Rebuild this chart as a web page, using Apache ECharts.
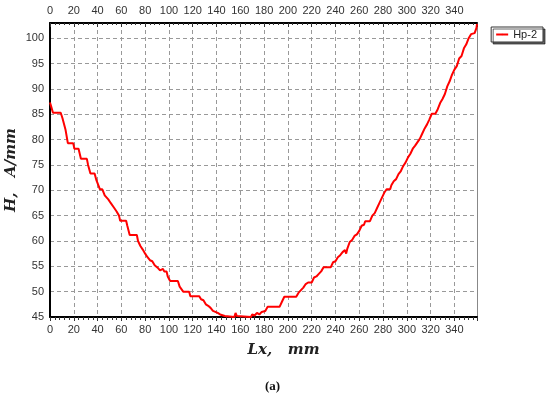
<!DOCTYPE html>
<html><head><meta charset="utf-8">
<script src="https://cdn.jsdelivr.net/npm/echarts@6/dist/echarts.min.js"></script>
<style>html,body{margin:0;padding:0;background:#fff}#c{width:550px;height:398px}</style>
</head><body><div id="c"></div>
<script>
var seriesName = 'Hp-2';
var lx = [0,1,2.5,9,10.5,12,13,15,19.5,20.5,24,26,31,32,34,37.5,39,42,44,46,49,51,54,56,58,59,64,65,67,73,74,76,78,80,82,84,86,88,91,92.5,95,96,98,99,101,107.5,109,112,117,118,125.5,127,129,131,133,135,137,139,141,143,147,148,155,156,157,158,169,170,172,174,176,178,181,183,193,195,197,207,209,211,213,215,217,220,222,224,226,228,230,236,238,240,242,244,246,248,249,250,252,254,256,258,260,262,264,265,269,271,273,275,277,279,281,283,286,287,289,291,293,295,297,299,301,303,305,307,309,311,313,315,317,319,321,324,326,328,330,332,334,336,338,340,342,344,346,348,350,352,354,357,358.5,359];
var h = [87.3,86.5,85.3,85.3,84.2,84,82,79.3,79.3,78.2,78.2,76.2,76.2,75,73.3,73.3,72,70.2,70.2,69,68.2,67.5,66.5,65.8,65,64,64,63,61.2,61.2,60,59,58.3,57.5,56.8,56.2,56,55.2,54.6,54.2,54.5,54,54,53,52.1,52.1,51,50,50,49.1,49.1,48.5,48.3,47.5,47.2,46.8,46.2,46,45.8,45.5,45.2,45,45,45.8,45.2,45,45,45.5,45.3,45.8,45.5,46,46.2,47,47,48,49,49,49.8,50.3,50.8,51.5,51.8,51.8,52.8,53,53.5,54,54.8,54.8,55.8,56,56.8,57.2,57.8,58.2,57.5,58.5,59.8,60.2,61,61.3,62,63,63.2,63.9,63.9,65,65.5,66.5,67.5,68.5,69.5,70.2,70.2,71,71.8,72.2,73.2,73.8,74.8,75.5,76.5,77.2,78.2,78.8,79.5,80.2,81.2,82.2,83,84,85.1,85.1,86,87.2,88,89,90.5,91.5,92.8,93.8,94.5,96,96.5,98,98.8,100,100.8,101,102,102.8];
var xTitle = 'Lx,   mm';
var yTitle = 'H,   A/mm';
var caption = '(a)';

var data = lx.map(function(v,i){return [v,h[i]];});
var chart = echarts.init(document.getElementById('c'), null, {renderer:'canvas'});
var lblColor = '#333';
var titleStyle = {fontFamily:'DejaVu Serif', fontStyle:'italic', fontWeight:'bold', fontSize:15, color:'#222'};
var xCommon = {
  type:'value', min:0, max:359, interval:20,
  axisLine:{show:true, onZero:false, lineStyle:{color:'#000', width:2}},
  axisLabel:{color:lblColor, fontFamily:'Arial', fontSize:11, showMaxLabel:false, margin:7},
  minorTick:{show:true, splitNumber:5, length:3, lineStyle:{color:'#333'}},
  axisTick:{show:true, length:4, lineStyle:{color:'#333'}}
};
chart.setOption({
  animation:false,
  grid:{left:50, right:73, top:23, bottom:81, containLabel:false, outerBoundsMode:'none'},
  legend:{
    data:[seriesName], right:7, top:27, orient:'vertical',
    backgroundColor:'#fff', borderColor:'#333', borderWidth:1,
    padding:[2,6,2,4], itemWidth:12, itemHeight:2, itemGap:2,
    shadowColor:'rgba(0,0,0,0.6)', shadowOffsetX:2, shadowOffsetY:2, shadowBlur:0,
    textStyle:{fontFamily:'Arial', fontSize:11, color:'#222'}
  },
  xAxis:[
    Object.assign({}, xCommon, {position:'bottom',
      name:xTitle, nameLocation:'middle', nameGap:26,
      nameTextStyle:Object.assign({}, titleStyle, {padding:[0,0,0,40]}),
      splitLine:{show:true, lineStyle:{color:'#999', type:[4,3], width:1}}
    }),
    Object.assign({}, xCommon, {position:'top', axisTick:{show:true, inside:true, length:4, lineStyle:{color:'#333'}},
      minorTick:{show:true, splitNumber:5, length:2, lineStyle:{color:'#333'}},
      splitLine:{show:false}})
  ],
  yAxis:[
    {type:'value', min:45, max:103, interval:5, position:'left',
     axisLine:{show:true, onZero:false, lineStyle:{color:'#000', width:2}},
     axisTick:{show:false},
     axisLabel:{color:lblColor, fontFamily:'Arial', fontSize:11, showMaxLabel:false, margin:6},
     name:yTitle, nameLocation:'middle', nameGap:31, nameRotate:90, nameMoveOverlap:false,
     nameTextStyle:titleStyle,
     splitLine:{show:true, lineStyle:{color:'#999', type:[4,3], width:1}}
    },
    {type:'value', min:45, max:103, interval:5, position:'right',
     axisLine:{show:true, onZero:false, lineStyle:{color:'#888', width:1}},
     axisTick:{show:false}, axisLabel:{show:false}, splitLine:{show:false}}
  ],
  series:[{
    name:seriesName, type:'line', data:data, symbol:'none', xAxisIndex:0, yAxisIndex:0,
    lineStyle:{color:'#f00', width:2}, itemStyle:{color:'#f00'}
  }],
  graphic:[{type:'text', left:265, top:380, style:{text:caption, font:'bold 13px "Liberation Serif"', fill:'#111'}}]
});
</script></body></html>
